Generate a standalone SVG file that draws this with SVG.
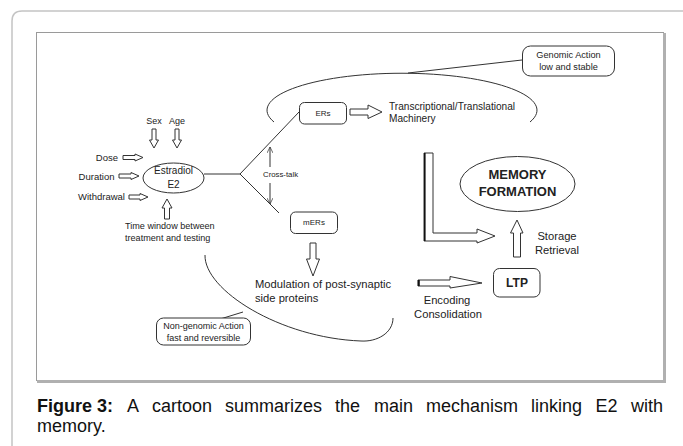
<svg xmlns="http://www.w3.org/2000/svg" width="683" height="446" viewBox="0 0 683 446">
<style>
  text { font-family: "Liberation Sans", Arial, sans-serif; fill: #222; }
  .s { font-size: 9.5px; }
  .m { font-size: 11.2px; }
  .b { font-weight: bold; }
  .ln { fill: none; stroke: #333; stroke-width: 1; }
  .box { fill: #fff; stroke: #333; stroke-width: 1; }
  .blk { fill: #fff; stroke: #333; stroke-width: 1; stroke-linejoin: miter; }
  .cap { font-size: 18px; fill: #111; }
</style>
<defs>
  <marker id="open" viewBox="0 0 10 10" refX="10" refY="5" markerWidth="6" markerHeight="6" orient="auto" markerUnits="userSpaceOnUse">
    <path d="M0,0 L10,5 L0,10" fill="none" stroke="#333" stroke-width="1.2"/>
  </marker>
</defs>
<rect width="683" height="446" fill="#fff"/>
<!-- outer page border -->
<path d="M12,460 V21 Q12,11 22,11 H700" fill="none" stroke="#c4c4c4" stroke-width="1.5"/>
<!-- inner figure frame -->
<g id="frame">
  <rect x="36.5" y="32.5" width="627" height="348" fill="#fff" stroke="#9a9a9a" stroke-width="1"/>
  <line x1="664.5" y1="33" x2="664.5" y2="382.5" stroke="#b0b0b0" stroke-width="3"/>
  <line x1="37" y1="381.5" x2="666" y2="381.5" stroke="#b0b0b0" stroke-width="3"/>
</g>

<g id="connectors">
  <!-- upper genomic arc -->
  <path class="ln" d="M274,122 A135,37 0 1 1 530,122"/>
  <line class="ln" x1="522" y1="60" x2="408" y2="73"/>
  <!-- lower non-genomic arc -->
  <path class="ln" d="M205,255 C204,290 280,338 361,341 C377,342 393,333 393,318"/>
  <line class="ln" x1="243" y1="312" x2="217" y2="320"/>
  <!-- branching from estradiol -->
  <polyline class="ln" points="204,174 240,174 299,112"/>
  <line class="ln" x1="240" y1="174" x2="279" y2="213"/>
  <!-- cross-talk -->
  <line class="ln" x1="270" y1="167" x2="270" y2="147" marker-end="url(#open)"/>
  <line class="ln" x1="270" y1="183" x2="270" y2="204" marker-end="url(#open)"/>
  <!-- block arrows -->
  <path class="blk" d="M152,129 H156 V140 H158.5 L154,148 L149.5,140 H152 Z"/>
  <path class="blk" d="M175,129 H179 V140 H181.5 L177,148 L172.5,140 H175 Z"/>
  <path class="blk" d="M123,155.5 H135 V154 L143,157.5 L135,161 V159.5 H123 Z"/>
  <path class="blk" d="M119,174 H131 V172.5 L139,176 L131,179.5 V178 H119 Z"/>
  <path class="blk" d="M129,195 H140 V193.5 L148,197 L140,200.5 V199 H129 Z"/>
  <path class="blk" d="M164.5,219 V208 H162 L167,199 L172,208 H169.5 V219 Z"/>
  <path class="blk" d="M310,243 H316 V259 H319.5 L313,276 L306.5,259 H310 Z"/>
  <path class="blk" d="M350,109 H368 V105 L382,112 L368,118.5 V115 H350 Z"/>
  <path class="blk" d="M418,280 H450 V276.5 L482,283 L450,288 V286 H418 Z"/>
  <line x1="418.8" y1="280" x2="418.8" y2="286" stroke="#111" stroke-width="2"/>
  <path class="blk" d="M513.5,257 V233 H510.5 L517,220 L523,233 H520.5 V257 Z"/>
  <path class="blk" d="M424,153 H433 V233 H477 V229 L495,236 L477,243 V241 H424 Z"/>
  <line x1="424.8" y1="153" x2="424.8" y2="241" stroke="#111" stroke-width="1.6"/>
</g>

<g id="factors">
  <text x="154" y="124" text-anchor="middle" font-size="9">Sex</text>
  <text x="177" y="124" text-anchor="middle" font-size="9">Age</text>
  <text class="s" x="118" y="160.5" text-anchor="end">Dose</text>
  <text class="s" x="114.5" y="179.5" text-anchor="end">Duration</text>
  <text class="s" x="125" y="200" text-anchor="end">Withdrawal</text>
  <text x="125" y="229" font-size="9.1">Time window between</text>
  <text x="125" y="240.5" font-size="9.1">treatment and testing</text>
</g>

<g id="estradiol">
  <ellipse class="box" cx="173.5" cy="178" rx="30.5" ry="15"/>
  <text x="173.5" y="173.5" text-anchor="middle" font-size="10">Estradiol</text>
  <text x="173.5" y="188" text-anchor="middle" font-size="10">E2</text>
</g>

<g id="crosstalk">
  <text x="263" y="177" font-size="7.8">Cross-talk</text>
</g>

<g id="ers">
  <rect class="box" x="299.5" y="102.5" width="47" height="21.5" rx="5"/>
  <text x="323" y="116" text-anchor="middle" font-size="8">ERs</text>
</g>

<g id="transcription">
  <text x="389" y="109.5" font-size="10.1">Transcriptional/Translational</text>
  <text x="389" y="121.5" font-size="10.1">Machinery</text>
</g>

<g id="genomic">
  <rect class="box" x="522.5" y="46" width="92" height="30" rx="8"/>
  <text x="568.5" y="57.5" text-anchor="middle" font-size="9.2">Genomic Action</text>
  <text x="568.5" y="69.5" text-anchor="middle" font-size="9.2">low and stable</text>
</g>

<g id="mers">
  <rect class="box" x="290.5" y="212" width="47" height="21.5" rx="5"/>
  <text x="314" y="225" text-anchor="middle" font-size="8">mERs</text>
</g>

<g id="modulation">
  <text class="m" x="255" y="288">Modulation of post-synaptic</text>
  <text class="m" x="255" y="301.5">side proteins</text>
</g>

<g id="nongenomic">
  <rect class="box" x="156.5" y="318" width="94" height="27" rx="7"/>
  <text x="203.5" y="328.5" text-anchor="middle" font-size="9">Non-genomic Action</text>
  <text x="203.5" y="340.5" text-anchor="middle" font-size="9">fast and reversible</text>
</g>

<g id="encoding">
  <text class="m" x="447" y="304" text-anchor="middle">Encoding</text>
  <text class="m" x="448" y="318" text-anchor="middle">Consolidation</text>
</g>

<g id="ltp">
  <rect class="box" x="493.5" y="268.5" width="46.5" height="28.5" rx="6"/>
  <text class="b" x="517" y="286.5" text-anchor="middle" font-size="12">LTP</text>
</g>

<g id="storage">
  <text class="m" x="557" y="240" text-anchor="middle">Storage</text>
  <text class="m" x="557" y="254" text-anchor="middle">Retrieval</text>
</g>

<g id="memory">
  <ellipse class="box" cx="517.5" cy="184" rx="57.5" ry="27.5"/>
  <text class="b" x="517.5" y="178.5" text-anchor="middle" font-size="13">MEMORY</text>
  <text class="b" x="517.5" y="195.5" text-anchor="middle" font-size="13">FORMATION</text>
</g>

<g id="caption">
  <text class="cap b" x="37" y="411.5">Figure 3:</text>
  <text class="cap" x="127" y="411.5">A</text>
  <text class="cap" x="152" y="411.5">cartoon</text>
  <text class="cap" x="225" y="411.5">summarizes</text>
  <text class="cap" x="335" y="411.5">the</text>
  <text class="cap" x="374" y="411.5">main</text>
  <text class="cap" x="426" y="411.5">mechanism</text>
  <text class="cap" x="531" y="411.5">linking</text>
  <text class="cap" x="595.5" y="411.5">E2</text>
  <text class="cap" x="631" y="411.5">with</text>
  <text class="cap" x="37" y="431.5">memory.</text>
</g>
</svg>
